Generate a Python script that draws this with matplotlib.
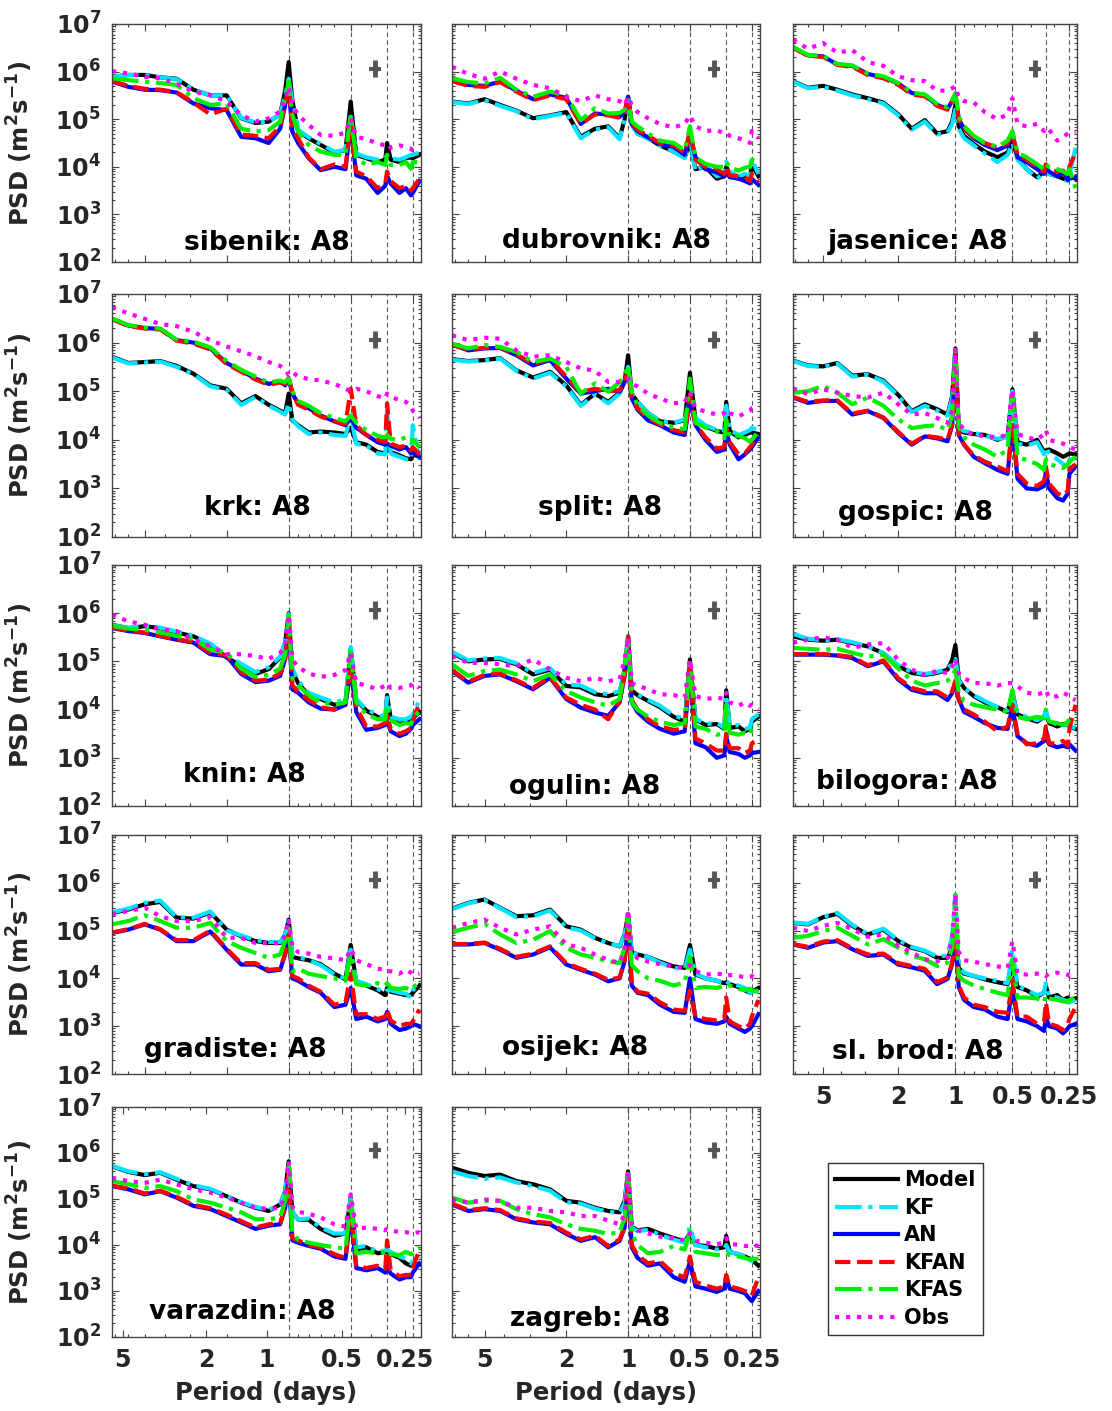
import numpy as np
import matplotlib.pyplot as plt
from matplotlib.ticker import NullFormatter, LogLocator

plt.rcParams['font.family'] = ['DejaVu Sans']
plt.rcParams['font.weight'] = 'bold'
plt.rcParams['mathtext.fontset'] = 'dejavusans'
plt.rcParams['mathtext.default'] = 'bf'

# period grid (days) the spectra were read on
period = [7.2, 6.0, 5.0, 4.2, 3.5, 2.9, 2.4, 2.0, 1.7, 1.45, 1.25, 1.1, 1.04, 1.0, 0.96, 0.9,
          0.8, 0.7, 0.6, 0.53, 0.5, 0.47, 0.42, 0.37, 0.34, 0.333, 0.32, 0.29, 0.27, 0.255, 0.25, 0.232]

# tidal periods marked with dashed lines and the confidence bar
tidal_periods = [1.0, 0.5, 1 / 3, 0.25]
ci_period = 0.38
ci_center = 1.15e6
ci_low = 7.6e5
ci_high = 1.75e6

# log10 PSD values, one list per station and run
sibenik_model = [5.89, 5.93, 5.93, 5.88, 5.85, 5.62, 5.5, 5.5, 5.02, 4.92, 4.95, 5.1, 5.6, 6.2, 5.4, 4.75, 4.6, 4.46, 4.3, 4.35, 5.37, 4.25, 4.18, 4.1, 4.15, 4.5, 4.15, 4.1, 4.18, 4.2, 4.18, 4.25]
sibenik_kf = [5.89, 5.93, 5.92, 5.88, 5.84, 5.62, 5.5, 5.5, 5.03, 4.93, 4.95, 5.1, 5.5, 5.85, 5.35, 4.78, 4.62, 4.48, 4.32, 4.35, 5.05, 4.28, 4.2, 4.15, 4.18, 4.25, 4.18, 4.15, 4.2, 4.25, 4.25, 4.3]
sibenik_an = [5.79, 5.68, 5.62, 5.61, 5.56, 5.33, 5.23, 5.19, 4.63, 4.6, 4.5, 4.8, 5.3, 5.68, 4.74, 4.5, 4.18, 3.93, 4.0, 3.95, 4.88, 3.82, 3.75, 3.45, 3.6, 3.8, 3.65, 3.45, 3.55, 3.4, 3.45, 3.7]
sibenik_kfan = [5.8, 5.7, 5.64, 5.62, 5.57, 5.35, 5.1, 5.22, 4.68, 4.65, 4.6, 4.85, 5.35, 5.7, 4.8, 4.6, 4.2, 3.95, 4.05, 4.0, 4.9, 3.9, 3.8, 3.55, 3.65, 3.9, 3.7, 3.55, 3.6, 3.5, 3.55, 3.75]
sibenik_kfas = [5.86, 5.82, 5.79, 5.76, 5.72, 5.44, 5.3, 5.33, 4.8, 4.74, 4.77, 4.95, 5.44, 5.79, 5.09, 4.74, 4.46, 4.32, 4.25, 4.25, 5.09, 4.18, 4.04, 4.1, 4.04, 4.25, 4.04, 4.04, 4.1, 3.96, 4.1, 4.1]
sibenik_obs = [6.01, 5.96, 5.89, 5.86, 5.75, 5.58, 5.51, 5.37, 5.09, 4.95, 5.02, 5.16, 5.44, 5.68, 5.3, 5.09, 4.88, 4.67, 4.65, 4.72, 5.02, 4.63, 4.58, 4.49, 4.45, 4.49, 4.4, 4.45, 4.42, 4.38, 4.35, 4.35]

dubrovnik_model = [5.37, 5.33, 5.42, 5.3, 5.18, 5.02, 5.08, 5.15, 4.63, 4.8, 4.85, 4.6, 5.0, 5.47, 4.9, 4.7, 4.6, 4.45, 4.32, 4.2, 4.5, 3.95, 4.0, 3.75, 3.8, 4.0, 3.85, 3.75, 3.8, 3.78, 4.05, 3.8]
dubrovnik_kf = [5.36, 5.32, 5.4, 5.28, 5.17, 5.0, 5.07, 5.13, 4.6, 4.78, 4.83, 4.58, 5.0, 5.45, 4.88, 4.7, 4.6, 4.45, 4.32, 4.18, 4.6, 3.9, 4.05, 3.8, 3.85, 4.1, 3.9, 3.8, 3.85, 3.8, 4.15, 3.85]
dubrovnik_an = [5.82, 5.72, 5.7, 5.79, 5.6, 5.42, 5.52, 5.45, 4.9, 5.12, 5.1, 5.05, 5.15, 5.47, 4.9, 4.75, 4.62, 4.48, 4.42, 4.25, 4.7, 4.2, 3.95, 3.88, 3.8, 3.9, 3.78, 3.75, 3.7, 3.65, 3.75, 3.62]
dubrovnik_kfan = [5.8, 5.7, 5.68, 5.78, 5.58, 5.4, 5.5, 5.42, 4.9, 5.1, 5.08, 5.03, 5.15, 5.47, 4.92, 4.78, 4.65, 4.5, 4.45, 4.3, 4.75, 4.15, 4.0, 3.95, 3.85, 4.0, 3.82, 3.8, 3.78, 3.7, 3.85, 3.7]
dubrovnik_kfas = [5.86, 5.78, 5.75, 5.87, 5.62, 5.47, 5.58, 5.5, 4.98, 5.23, 5.12, 5.13, 5.2, 5.4, 4.95, 4.85, 4.7, 4.55, 4.5, 4.35, 4.85, 4.2, 4.06, 4.0, 4.0, 4.1, 3.99, 3.92, 3.98, 4.0, 4.15, 4.1]
dubrovnik_obs = [6.1, 5.95, 5.85, 6.0, 5.85, 5.72, 5.65, 5.47, 5.38, 5.5, 5.42, 5.38, 5.3, 5.47, 5.3, 5.15, 5.02, 4.9, 4.83, 4.9, 5.08, 4.85, 4.75, 4.77, 4.7, 4.72, 4.65, 4.6, 4.55, 4.5, 4.75, 4.6]

jasenice_model = [5.8, 5.66, 5.7, 5.62, 5.52, 5.44, 5.35, 5.1, 4.8, 4.98, 4.7, 4.75, 4.95, 5.3, 4.85, 4.65, 4.48, 4.32, 4.2, 4.3, 4.55, 4.2, 3.95, 3.78, 3.9, 3.95, 3.85, 3.8, 3.75, 3.72, 3.8, 3.75]
jasenice_kf = [5.79, 5.65, 5.68, 5.6, 5.5, 5.42, 5.33, 5.08, 4.78, 4.95, 4.68, 4.72, 4.9, 5.2, 4.8, 4.6, 4.45, 4.28, 4.1, 4.25, 4.5, 4.15, 3.95, 3.75, 3.88, 4.05, 3.85, 3.8, 3.75, 3.7, 3.82, 4.4]
jasenice_an = [6.51, 6.34, 6.32, 6.15, 6.12, 5.95, 5.88, 5.75, 5.55, 5.5, 5.3, 5.22, 5.38, 5.51, 5.0, 4.8, 4.6, 4.46, 4.35, 4.45, 4.7, 4.2, 4.1, 3.95, 3.85, 3.98, 3.9, 3.8, 3.88, 3.72, 3.75, 3.78]
jasenice_kfan = [6.5, 6.33, 6.31, 6.14, 6.1, 5.93, 5.86, 5.72, 5.52, 5.48, 5.28, 5.2, 5.38, 5.5, 5.0, 4.82, 4.62, 4.5, 4.4, 4.5, 4.7, 4.25, 4.15, 4.0, 3.9, 4.05, 3.95, 3.9, 3.92, 3.8, 4.0, 4.3]
jasenice_kfas = [6.52, 6.35, 6.33, 6.16, 6.13, 5.96, 5.9, 5.76, 5.56, 5.52, 5.32, 5.25, 5.4, 5.55, 5.05, 4.85, 4.65, 4.5, 4.42, 4.55, 4.75, 4.3, 4.2, 4.05, 3.95, 4.05, 4.0, 3.95, 3.9, 3.85, 3.95, 3.55]
jasenice_obs = [6.67, 6.48, 6.6, 6.4, 6.45, 6.2, 6.12, 5.9, 5.82, 5.8, 5.6, 5.6, 5.65, 5.69, 5.45, 5.38, 5.35, 5.15, 5.0, 5.1, 5.44, 4.9, 4.85, 4.9, 4.75, 4.82, 4.78, 4.55, 4.62, 4.7, 4.72, 4.72]

krk_model = [5.71, 5.58, 5.6, 5.62, 5.52, 5.36, 5.12, 5.05, 4.75, 4.9, 4.72, 4.6, 4.55, 4.95, 4.4, 4.3, 4.15, 4.17, 4.15, 4.12, 4.25, 3.95, 3.9, 3.75, 3.72, 3.82, 3.75, 3.68, 3.62, 3.6, 3.7, 3.65]
krk_kf = [5.7, 5.57, 5.59, 5.61, 5.5, 5.35, 5.1, 5.03, 4.72, 4.88, 4.7, 4.58, 4.52, 4.75, 4.42, 4.28, 4.12, 4.15, 4.1, 4.08, 4.5, 3.92, 3.88, 3.72, 3.7, 4.6, 3.72, 3.65, 3.6, 3.58, 4.3, 3.6]
krk_an = [6.49, 6.35, 6.3, 6.28, 6.05, 6.0, 5.88, 5.58, 5.42, 5.26, 5.15, 5.2, 5.12, 5.26, 4.95, 4.75, 4.65, 4.5, 4.38, 4.3, 4.45, 4.25, 4.1, 3.95, 3.9, 3.92, 3.88, 3.8, 3.85, 3.72, 3.75, 3.65]
krk_kfan = [6.48, 6.34, 6.29, 6.27, 6.04, 5.98, 5.86, 5.56, 5.4, 5.24, 5.13, 5.18, 5.15, 5.28, 4.98, 4.72, 4.62, 4.48, 4.38, 4.32, 5.05, 4.3, 4.1, 4.0, 3.95, 4.75, 3.92, 3.85, 3.88, 3.78, 3.85, 3.7]
krk_kfas = [6.5, 6.36, 6.31, 6.29, 6.06, 6.02, 5.9, 5.62, 5.44, 5.3, 5.18, 5.22, 5.18, 5.28, 5.0, 4.8, 4.7, 4.55, 4.45, 4.38, 4.5, 4.35, 4.2, 4.08, 4.05, 4.1, 4.02, 4.0, 4.05, 3.95, 4.0, 3.85]
krk_obs = [6.73, 6.6, 6.49, 6.38, 6.34, 6.22, 6.05, 5.92, 5.82, 5.72, 5.6, 5.52, 5.45, 5.33, 5.4, 5.3, 5.25, 5.22, 5.15, 5.05, 5.0, 5.05, 5.0, 4.9, 4.85, 4.95, 4.88, 4.82, 4.78, 4.7, 4.6, 4.45]

split_model = [5.66, 5.62, 5.64, 5.68, 5.43, 5.28, 5.4, 5.12, 4.72, 4.95, 4.78, 4.97, 5.2, 5.74, 4.95, 4.78, 4.55, 4.38, 4.35, 4.4, 5.38, 4.42, 4.28, 4.18, 4.15, 4.78, 4.18, 4.05, 4.1, 4.15, 4.15, 4.12]
split_kf = [5.65, 5.61, 5.63, 5.67, 5.42, 5.26, 5.38, 5.1, 4.7, 4.93, 4.75, 4.95, 5.18, 5.5, 4.95, 4.78, 4.55, 4.38, 4.35, 4.42, 4.8, 4.45, 4.3, 4.2, 4.2, 4.7, 4.2, 4.1, 4.15, 4.2, 4.25, 4.2]
split_an = [5.96, 5.84, 5.88, 5.89, 5.74, 5.53, 5.64, 5.26, 4.95, 5.0, 5.05, 4.99, 5.2, 5.4, 4.85, 4.62, 4.4, 4.3, 4.15, 4.1, 4.85, 4.3, 4.0, 3.75, 3.8, 4.2, 3.9, 3.6, 3.7, 3.8, 3.85, 4.05]
split_kfan = [5.95, 5.86, 5.89, 5.9, 5.76, 5.56, 5.66, 5.3, 4.98, 5.05, 5.0, 5.02, 5.22, 5.42, 4.88, 4.65, 4.45, 4.32, 4.2, 4.15, 4.9, 4.32, 4.05, 3.82, 3.85, 4.25, 3.95, 3.7, 3.72, 3.85, 3.9, 4.1]
split_kfas = [5.98, 5.88, 5.95, 5.91, 5.81, 5.6, 5.67, 5.5, 4.95, 5.16, 4.99, 5.19, 5.33, 5.53, 4.98, 4.72, 4.5, 4.35, 4.25, 4.22, 5.26, 4.35, 4.25, 4.18, 4.03, 4.42, 4.05, 4.08, 4.03, 3.96, 4.0, 4.18]
split_obs = [6.15, 6.05, 6.1, 6.08, 5.84, 5.71, 5.74, 5.6, 5.47, 5.42, 5.19, 5.19, 5.22, 5.26, 5.15, 5.1, 4.95, 4.85, 4.75, 4.78, 4.98, 4.65, 4.58, 4.52, 4.55, 4.62, 4.55, 4.48, 4.55, 4.6, 4.65, 4.7]

gospic_model = [5.63, 5.53, 5.51, 5.58, 5.32, 5.35, 5.22, 4.92, 4.59, 4.73, 4.63, 4.52, 4.9, 5.88, 4.2, 4.15, 4.12, 4.1, 4.0, 4.08, 5.04, 3.95, 3.9, 4.0, 3.75, 3.78, 3.8, 3.72, 3.65, 3.7, 3.72, 3.7]
gospic_kf = [5.62, 5.52, 5.5, 5.57, 5.3, 5.34, 5.2, 4.9, 4.57, 4.7, 4.6, 4.5, 4.85, 5.85, 4.22, 4.18, 4.15, 4.08, 4.02, 4.05, 5.0, 3.92, 3.88, 3.95, 3.7, 3.85, 3.72, 3.6, 3.5, 3.45, 3.6, 3.55]
gospic_an = [4.87, 4.76, 4.8, 4.8, 4.52, 4.59, 4.45, 4.14, 3.9, 4.07, 4.03, 3.97, 4.3, 5.8, 4.1, 3.9, 3.65, 3.52, 3.38, 3.3, 4.3, 3.2, 3.0, 2.98, 3.05, 3.35, 3.0, 2.8, 2.75, 2.9, 3.3, 3.45]
gospic_kfan = [4.88, 4.78, 4.81, 4.81, 4.54, 4.6, 4.46, 4.16, 3.92, 4.08, 4.05, 4.0, 4.32, 5.8, 4.12, 3.9, 3.68, 3.55, 3.45, 3.35, 4.35, 3.3, 3.1, 3.05, 3.15, 3.45, 3.1, 2.9, 2.85, 2.95, 3.4, 3.5]
gospic_kfas = [4.97, 5.0, 5.11, 4.97, 4.73, 4.87, 4.7, 4.42, 4.24, 4.28, 4.3, 4.2, 4.5, 5.85, 4.28, 4.05, 3.9, 3.8, 3.65, 3.8, 4.95, 3.65, 3.58, 3.5, 3.38, 3.6, 3.5, 3.45, 3.42, 3.5, 3.55, 3.65]
gospic_obs = [5.06, 4.94, 5.04, 4.97, 4.9, 4.87, 4.97, 4.73, 4.52, 4.55, 4.45, 4.35, 4.6, 5.88, 4.35, 4.2, 4.1, 4.08, 4.05, 4.1, 5.04, 4.12, 4.05, 4.0, 4.12, 4.2, 4.0, 3.95, 3.92, 3.88, 3.85, 3.8]

knin_model = [5.76, 5.69, 5.73, 5.69, 5.6, 5.52, 5.35, 5.08, 4.91, 4.74, 4.84, 5.08, 5.39, 6.0, 4.8, 4.55, 4.3, 4.22, 4.1, 4.15, 5.28, 4.2, 3.98, 3.85, 3.8, 4.3, 3.82, 3.7, 3.75, 3.8, 3.82, 3.95]
knin_kf = [5.75, 5.7, 5.74, 5.7, 5.62, 5.53, 5.37, 5.12, 4.95, 4.78, 4.88, 5.1, 5.4, 5.98, 4.85, 4.6, 4.35, 4.25, 4.15, 4.2, 5.3, 4.22, 4.0, 3.9, 3.85, 4.25, 3.85, 3.8, 3.8, 3.85, 3.9, 4.2]
knin_an = [5.69, 5.63, 5.59, 5.52, 5.45, 5.39, 5.15, 5.11, 4.74, 4.57, 4.6, 4.7, 5.05, 5.73, 4.42, 4.35, 4.15, 4.02, 4.0, 4.1, 4.84, 3.95, 3.58, 3.62, 3.68, 3.85, 3.55, 3.45, 3.5, 3.6, 3.68, 3.8]
knin_kfan = [5.7, 5.64, 5.6, 5.53, 5.46, 5.41, 5.18, 5.13, 4.78, 4.6, 4.62, 4.75, 5.05, 5.75, 4.5, 4.38, 4.2, 4.05, 4.0, 4.15, 4.9, 4.05, 3.65, 3.65, 3.72, 3.9, 3.6, 3.5, 3.55, 3.62, 3.75, 4.15]
knin_kfas = [5.74, 5.68, 5.66, 5.6, 5.53, 5.47, 5.25, 5.18, 4.85, 4.68, 4.72, 4.85, 5.15, 5.95, 4.65, 4.5, 4.3, 4.15, 4.1, 4.15, 5.2, 4.15, 3.9, 3.8, 3.8, 4.1, 3.78, 3.68, 3.72, 3.7, 3.8, 3.98]
knin_obs = [5.97, 5.83, 5.76, 5.66, 5.63, 5.45, 5.32, 5.15, 5.15, 5.11, 5.05, 5.18, 5.32, 5.97, 5.05, 4.88, 4.75, 4.68, 4.72, 4.82, 5.18, 4.55, 4.5, 4.42, 4.5, 4.55, 4.45, 4.45, 4.48, 4.5, 4.55, 4.45]

ogulin_model = [5.18, 5.0, 5.04, 5.05, 4.94, 4.73, 4.83, 4.49, 4.46, 4.32, 4.28, 4.35, 4.83, 5.52, 4.4, 4.3, 4.18, 4.05, 3.85, 3.75, 5.04, 3.8, 3.68, 3.7, 3.6, 4.4, 3.62, 3.65, 3.55, 3.6, 3.75, 3.85]
ogulin_kf = [5.2, 5.02, 5.06, 5.07, 4.96, 4.76, 4.86, 4.52, 4.5, 4.36, 4.32, 4.38, 4.8, 5.5, 4.42, 4.32, 4.2, 4.08, 3.88, 3.8, 4.95, 3.82, 3.7, 3.72, 3.62, 4.3, 3.65, 3.68, 3.6, 3.62, 3.8, 3.9]
ogulin_an = [4.8, 4.56, 4.7, 4.73, 4.59, 4.42, 4.66, 4.22, 4.04, 3.94, 3.87, 4.15, 4.7, 5.45, 4.15, 3.95, 3.75, 3.6, 3.5, 3.55, 4.85, 3.3, 3.22, 3.0, 3.05, 3.45, 3.12, 3.08, 3.0, 3.05, 3.1, 3.12]
ogulin_kfan = [4.82, 4.58, 4.72, 4.75, 4.61, 4.45, 4.68, 4.25, 4.1, 4.0, 3.8, 4.18, 4.72, 5.5, 4.2, 4.0, 3.8, 3.65, 3.58, 3.6, 4.95, 3.4, 3.3, 3.15, 3.15, 3.5, 3.2, 3.2, 3.1, 3.15, 3.3, 3.35]
ogulin_kfas = [4.94, 4.7, 4.8, 4.83, 4.73, 4.59, 4.73, 4.39, 4.25, 4.15, 4.08, 4.22, 4.83, 5.5, 4.15, 4.0, 3.85, 3.75, 3.68, 3.72, 4.95, 3.65, 3.6, 3.48, 3.5, 4.1, 3.52, 3.48, 3.52, 3.48, 3.6, 3.68]
ogulin_obs = [5.11, 4.97, 4.97, 4.94, 4.9, 5.04, 4.83, 4.66, 4.59, 4.66, 4.59, 4.63, 5.04, 5.5, 4.55, 4.5, 4.42, 4.32, 4.3, 4.25, 5.04, 4.28, 4.22, 4.25, 4.22, 4.35, 4.15, 4.08, 4.15, 4.08, 4.1, 4.0]

bilogora_model = [5.52, 5.45, 5.43, 5.45, 5.38, 5.31, 5.17, 4.9, 4.76, 4.72, 4.76, 4.83, 5.03, 5.34, 4.62, 4.45, 4.28, 4.15, 4.05, 3.95, 4.35, 3.9, 3.82, 3.75, 3.85, 3.95, 3.72, 3.65, 3.7, 3.68, 3.65, 3.6]
bilogora_kf = [5.57, 5.47, 5.44, 5.46, 5.4, 5.31, 5.17, 4.92, 4.78, 4.74, 4.78, 4.85, 4.95, 5.05, 4.6, 4.45, 4.3, 4.18, 4.05, 3.98, 4.3, 3.92, 3.85, 3.78, 3.85, 3.98, 3.75, 3.7, 3.68, 3.7, 3.65, 3.62]
bilogora_an = [5.14, 5.14, 5.14, 5.12, 5.07, 4.9, 5.0, 4.62, 4.41, 4.34, 4.34, 4.2, 4.34, 4.55, 4.22, 3.95, 3.85, 3.72, 3.62, 3.6, 4.05, 3.45, 3.3, 3.25, 3.35, 3.6, 3.28, 3.22, 3.25, 3.22, 3.28, 3.15]
bilogora_kfan = [5.15, 5.15, 5.15, 5.13, 5.09, 4.92, 5.02, 4.65, 4.45, 4.38, 4.38, 4.25, 4.38, 4.6, 4.2, 4.0, 3.9, 3.75, 3.55, 3.65, 4.1, 3.5, 3.28, 3.3, 3.4, 3.65, 3.3, 3.3, 3.35, 3.25, 3.6, 4.1]
bilogora_kfas = [5.28, 5.26, 5.24, 5.26, 5.18, 5.1, 5.14, 4.85, 4.6, 4.5, 4.55, 4.6, 4.7, 4.83, 4.35, 4.18, 4.1, 4.05, 4.0, 3.95, 4.4, 3.85, 3.8, 3.85, 3.82, 4.0, 3.75, 3.72, 3.68, 3.75, 3.8, 3.72]
bilogora_obs = [5.39, 5.45, 5.5, 5.45, 5.28, 5.35, 5.38, 5.03, 4.83, 4.72, 4.8, 4.76, 4.9, 5.05, 4.75, 4.65, 4.55, 4.55, 4.5, 4.55, 4.55, 4.48, 4.35, 4.32, 4.35, 4.4, 4.25, 4.28, 4.35, 4.3, 4.25, 4.2]

gradiste_model = [5.37, 5.44, 5.55, 5.6, 5.27, 5.25, 5.38, 5.02, 4.88, 4.78, 4.74, 4.74, 4.92, 5.23, 4.45, 4.42, 4.38, 4.3, 4.1, 3.98, 4.7, 3.92, 3.85, 3.75, 3.65, 3.8, 3.72, 3.68, 3.65, 3.65, 3.7, 3.85]
gradiste_kf = [5.38, 5.46, 5.58, 5.63, 5.28, 5.27, 5.4, 5.0, 4.9, 4.8, 4.76, 4.76, 4.92, 5.2, 4.5, 4.45, 4.38, 4.28, 4.08, 4.0, 4.6, 3.95, 3.88, 3.78, 3.7, 3.75, 3.75, 3.7, 3.68, 3.6, 3.75, 3.9]
gradiste_an = [4.95, 5.02, 5.13, 5.02, 4.78, 4.78, 4.98, 4.6, 4.29, 4.29, 4.15, 4.18, 4.5, 4.9, 4.0, 3.95, 3.82, 3.7, 3.4, 3.45, 3.8, 3.15, 3.2, 3.1, 3.15, 3.3, 3.05, 2.92, 2.95, 3.0, 3.05, 3.0]
gradiste_kfan = [4.96, 5.03, 5.14, 5.03, 4.8, 4.8, 5.0, 4.62, 4.32, 4.32, 4.18, 4.2, 4.52, 4.92, 4.05, 4.0, 3.85, 3.72, 3.45, 3.5, 4.1, 3.25, 3.25, 3.15, 3.2, 3.35, 3.12, 3.0, 3.05, 3.05, 3.1, 3.35]
gradiste_kfas = [5.13, 5.2, 5.32, 5.2, 5.06, 5.06, 5.16, 4.78, 4.64, 4.53, 4.43, 4.5, 4.78, 5.05, 4.15, 4.2, 4.1, 4.05, 4.0, 3.95, 4.5, 3.88, 3.85, 3.9, 3.85, 3.9, 3.8, 3.78, 3.8, 3.75, 3.8, 3.92]
gradiste_obs = [5.34, 5.41, 5.48, 5.3, 5.2, 5.2, 5.28, 4.85, 4.85, 4.74, 4.74, 4.74, 4.9, 5.25, 4.65, 4.55, 4.52, 4.45, 4.42, 4.38, 4.62, 4.38, 4.3, 4.2, 4.18, 4.15, 4.15, 4.1, 4.18, 4.12, 4.08, 4.1]

osijek_model = [5.46, 5.58, 5.65, 5.48, 5.3, 5.32, 5.44, 5.09, 5.02, 4.85, 4.74, 4.67, 4.92, 5.34, 4.55, 4.5, 4.45, 4.35, 4.25, 4.22, 4.7, 4.08, 4.0, 3.95, 3.9, 3.92, 3.88, 3.82, 3.75, 3.7, 3.72, 3.8]
osijek_kf = [5.45, 5.57, 5.64, 5.47, 5.28, 5.3, 5.42, 5.07, 5.0, 4.84, 4.73, 4.68, 4.9, 5.3, 4.55, 4.5, 4.45, 4.33, 4.22, 4.2, 4.6, 4.1, 4.0, 3.95, 3.9, 3.95, 3.88, 3.85, 3.8, 3.7, 3.72, 3.75]
osijek_an = [4.71, 4.71, 4.74, 4.6, 4.43, 4.5, 4.65, 4.29, 4.18, 4.08, 3.94, 4.0, 4.36, 5.2, 3.85, 3.7, 3.65, 3.45, 3.3, 3.28, 4.0, 3.15, 3.08, 3.05, 3.1, 3.2, 3.05, 2.95, 2.88, 2.95, 3.0, 3.25]
osijek_kfan = [4.72, 4.72, 4.75, 4.62, 4.45, 4.52, 4.67, 4.32, 4.2, 4.1, 3.97, 4.02, 4.38, 5.2, 3.9, 3.72, 3.68, 3.5, 3.35, 3.32, 3.75, 3.2, 3.15, 3.12, 3.15, 3.6, 3.1, 3.0, 2.95, 3.05, 3.2, 3.55]
osijek_kfas = [4.97, 5.06, 5.14, 4.92, 4.74, 4.81, 4.99, 4.64, 4.5, 4.43, 4.36, 4.32, 4.64, 5.28, 4.28, 4.15, 4.0, 3.95, 3.85, 3.92, 4.45, 3.8, 3.82, 3.8, 3.85, 3.85, 3.85, 3.78, 3.75, 3.78, 3.75, 3.72]
osijek_obs = [5.06, 5.16, 5.23, 5.06, 4.92, 5.02, 5.09, 4.71, 4.64, 4.5, 4.39, 4.32, 4.64, 5.44, 4.55, 4.42, 4.35, 4.3, 4.25, 4.22, 4.28, 4.15, 4.08, 4.1, 4.08, 4.05, 4.07, 4.05, 4.02, 4.03, 4.05, 3.98]

slbrod_model = [5.16, 5.13, 5.28, 5.35, 5.1, 4.92, 5.02, 4.78, 4.64, 4.57, 4.43, 4.43, 4.64, 4.99, 4.22, 4.1, 4.05, 3.98, 3.92, 3.88, 4.3, 3.82, 3.75, 3.62, 3.7, 3.85, 3.6, 3.65, 3.55, 3.6, 3.55, 3.58]
slbrod_kf = [5.17, 5.14, 5.29, 5.37, 5.12, 4.93, 5.04, 4.8, 4.66, 4.58, 4.46, 4.48, 4.9, 5.75, 4.25, 4.12, 4.05, 4.0, 3.95, 3.9, 4.6, 3.85, 3.75, 3.65, 3.7, 3.9, 3.62, 3.6, 3.55, 3.52, 3.5, 3.55]
slbrod_an = [4.71, 4.64, 4.75, 4.78, 4.61, 4.47, 4.5, 4.29, 4.23, 4.16, 3.88, 3.99, 4.3, 4.85, 3.82, 3.55, 3.4, 3.35, 3.2, 3.15, 3.8, 3.15, 3.1, 3.0, 2.9, 3.2, 3.0, 2.95, 2.85, 2.95, 3.0, 3.05]
slbrod_kfan = [4.72, 4.66, 4.77, 4.8, 4.63, 4.5, 4.52, 4.32, 4.26, 4.2, 3.92, 4.02, 4.32, 4.9, 3.85, 3.6, 3.45, 3.4, 3.3, 3.28, 3.95, 3.2, 3.2, 3.05, 3.1, 3.5, 3.05, 3.0, 2.92, 3.05, 3.15, 3.4]
slbrod_kfas = [4.85, 4.89, 4.99, 5.06, 4.89, 4.71, 4.82, 4.64, 4.47, 4.4, 4.26, 4.33, 4.64, 5.75, 4.05, 3.95, 3.85, 3.78, 3.7, 3.65, 4.4, 3.6, 3.6, 3.58, 3.5, 3.65, 3.58, 3.55, 3.52, 3.5, 3.55, 3.6]
slbrod_obs = [5.06, 4.99, 5.1, 5.16, 5.03, 4.87, 4.92, 4.68, 4.54, 4.4, 4.36, 4.43, 4.85, 5.75, 4.55, 4.38, 4.35, 4.3, 4.25, 4.22, 4.78, 4.1, 4.08, 4.1, 4.08, 4.05, 4.1, 4.12, 4.1, 4.08, 4.05, 4.1]

varazdin_model = [5.71, 5.59, 5.52, 5.57, 5.42, 5.28, 5.21, 5.06, 4.92, 4.81, 4.74, 4.88, 5.17, 5.82, 4.72, 4.55, 4.55, 4.35, 4.2, 4.25, 5.03, 3.9, 3.95, 3.82, 3.85, 3.85, 3.8, 3.72, 3.6, 3.55, 3.6, 3.58]
varazdin_kf = [5.72, 5.6, 5.54, 5.58, 5.44, 5.3, 5.22, 5.07, 4.93, 4.83, 4.76, 4.9, 5.15, 5.8, 4.72, 4.55, 4.58, 4.38, 4.25, 4.25, 5.0, 3.95, 3.98, 3.85, 3.88, 3.9, 3.85, 3.75, 3.7, 3.6, 3.65, 3.75]
varazdin_an = [5.28, 5.21, 5.1, 5.17, 5.03, 4.85, 4.78, 4.63, 4.49, 4.35, 4.42, 4.45, 4.81, 5.5, 4.1, 4.05, 3.98, 3.92, 3.75, 3.7, 4.65, 3.5, 3.45, 3.5, 3.4, 3.55, 3.38, 3.25, 3.3, 3.3, 3.4, 3.6]
varazdin_kfan = [5.29, 5.23, 5.12, 5.18, 5.05, 4.87, 4.8, 4.66, 4.52, 4.38, 4.45, 4.48, 4.82, 5.55, 4.15, 4.1, 4.0, 3.95, 3.8, 3.72, 4.8, 3.55, 3.5, 3.55, 3.48, 4.1, 3.45, 3.32, 3.35, 3.35, 3.5, 3.9]
varazdin_kfas = [5.39, 5.32, 5.24, 5.28, 5.17, 4.99, 4.92, 4.81, 4.71, 4.56, 4.56, 4.6, 4.96, 5.7, 4.25, 4.12, 4.05, 4.0, 3.95, 3.92, 4.95, 3.82, 3.85, 3.82, 3.85, 3.9, 3.8, 3.78, 3.85, 3.8, 3.82, 3.95]
varazdin_obs = [5.46, 5.39, 5.35, 5.42, 5.32, 5.21, 5.14, 5.03, 4.92, 4.81, 4.78, 4.81, 5.1, 5.82, 4.82, 4.72, 4.68, 4.6, 4.45, 4.4, 5.1, 4.35, 4.38, 4.35, 4.32, 4.35, 4.32, 4.28, 4.28, 4.25, 4.26, 4.28]

zagreb_model = [5.68, 5.57, 5.5, 5.53, 5.39, 5.32, 5.21, 4.96, 4.92, 4.81, 4.74, 4.71, 4.96, 5.6, 4.4, 4.32, 4.35, 4.25, 4.15, 4.08, 4.25, 4.0, 3.98, 3.92, 3.95, 4.2, 3.85, 3.8, 3.75, 3.7, 3.68, 3.55]
zagreb_kf = [5.6, 5.5, 5.44, 5.47, 5.36, 5.28, 5.18, 4.93, 4.9, 4.79, 4.72, 4.7, 4.9, 5.6, 4.38, 4.3, 4.33, 4.22, 4.12, 4.05, 4.4, 4.0, 3.95, 3.9, 3.92, 4.0, 3.85, 3.8, 3.75, 3.72, 3.65, 3.6]
zagreb_an = [4.88, 4.74, 4.78, 4.74, 4.56, 4.49, 4.45, 4.24, 4.09, 4.17, 3.95, 4.09, 4.38, 5.45, 3.95, 3.72, 3.55, 3.6, 3.3, 3.2, 3.65, 3.1, 3.05, 2.98, 3.05, 3.3, 3.05, 3.0, 2.95, 2.82, 2.78, 3.0]
zagreb_kfan = [4.9, 4.76, 4.8, 4.76, 4.58, 4.51, 4.48, 4.27, 4.12, 4.2, 3.98, 4.12, 4.4, 5.5, 4.0, 3.78, 3.6, 3.65, 3.38, 3.3, 3.75, 3.2, 3.12, 3.05, 3.1, 3.35, 3.1, 3.05, 3.0, 2.95, 2.9, 3.3]
zagreb_kfas = [5.03, 4.92, 4.96, 4.96, 4.78, 4.67, 4.6, 4.45, 4.35, 4.31, 4.24, 4.27, 4.6, 5.55, 4.25, 4.0, 3.82, 3.85, 3.98, 3.9, 4.3, 3.85, 3.82, 3.78, 3.8, 3.82, 3.78, 3.75, 3.72, 3.68, 3.7, 3.7]
zagreb_obs = [4.99, 4.92, 4.99, 4.96, 4.81, 4.81, 4.74, 4.71, 4.63, 4.63, 4.53, 4.45, 4.67, 5.6, 4.45, 4.32, 4.25, 4.18, 4.15, 4.1, 4.25, 4.1, 4.05, 4.02, 4.05, 4.15, 4.03, 4.0, 3.98, 3.98, 4.0, 3.98]

run_names = ['Model', 'KF', 'AN', 'KFAN', 'KFAS', 'Obs']
station_names = ['sibenik', 'dubrovnik', 'jasenice', 'krk', 'split', 'gospic', 'knin', 'ogulin',
                 'bilogora', 'gradiste', 'osijek', 'sl. brod', 'varazdin', 'zagreb']
spectra = {
    'sibenik': [sibenik_model, sibenik_kf, sibenik_an, sibenik_kfan, sibenik_kfas, sibenik_obs],
    'dubrovnik': [dubrovnik_model, dubrovnik_kf, dubrovnik_an, dubrovnik_kfan, dubrovnik_kfas, dubrovnik_obs],
    'jasenice': [jasenice_model, jasenice_kf, jasenice_an, jasenice_kfan, jasenice_kfas, jasenice_obs],
    'krk': [krk_model, krk_kf, krk_an, krk_kfan, krk_kfas, krk_obs],
    'split': [split_model, split_kf, split_an, split_kfan, split_kfas, split_obs],
    'gospic': [gospic_model, gospic_kf, gospic_an, gospic_kfan, gospic_kfas, gospic_obs],
    'knin': [knin_model, knin_kf, knin_an, knin_kfan, knin_kfas, knin_obs],
    'ogulin': [ogulin_model, ogulin_kf, ogulin_an, ogulin_kfan, ogulin_kfas, ogulin_obs],
    'bilogora': [bilogora_model, bilogora_kf, bilogora_an, bilogora_kfan, bilogora_kfas, bilogora_obs],
    'gradiste': [gradiste_model, gradiste_kf, gradiste_an, gradiste_kfan, gradiste_kfas, gradiste_obs],
    'osijek': [osijek_model, osijek_kf, osijek_an, osijek_kfan, osijek_kfas, osijek_obs],
    'sl. brod': [slbrod_model, slbrod_kf, slbrod_an, slbrod_kfan, slbrod_kfas, slbrod_obs],
    'varazdin': [varazdin_model, varazdin_kf, varazdin_an, varazdin_kfan, varazdin_kfas, varazdin_obs],
    'zagreb': [zagreb_model, zagreb_kf, zagreb_an, zagreb_kfan, zagreb_kfas, zagreb_obs],
}

styles = {
    'Model': dict(color='black', ls='-'),
    'KF': dict(color='#00e5ff', ls='-.'),
    'AN': dict(color='#0000ff', ls='-'),
    'KFAN': dict(color='#ff0000', ls='--'),
    'KFAS': dict(color='#00ee00', ls='-.'),
    'Obs': dict(color='#ff00ff', ls=':'),
}

# panel boxes in pixels (x0, x1) and (y0, y1)
W, H = 1112, 1411
col_px = [(112, 421), (452, 760), (793, 1077)]
row_px = [(24, 262), (294, 537), (565, 806), (835, 1074), (1107, 1337)]
# label position inside each panel (axes fraction)
label_pos = {'sibenik': (0.5, 0.08), 'dubrovnik': (0.5, 0.09), 'jasenice': (0.44, 0.085),
             'krk': (0.47, 0.12), 'split': (0.48, 0.12), 'gospic': (0.43, 0.10),
             'knin': (0.43, 0.13), 'ogulin': (0.43, 0.08), 'bilogora': (0.40, 0.10),
             'gradiste': (0.40, 0.10), 'osijek': (0.40, 0.11), 'sl. brod': (0.44, 0.09),
             'varazdin': (0.42, 0.11), 'zagreb': (0.45, 0.08)}

fig = plt.figure(figsize=(W / 100, H / 100), dpi=100)
edge = '#262626'
yticks = [1e2, 1e3, 1e4, 1e5, 1e6, 1e7]

for i, name in enumerate(station_names):
    r, c = divmod(i, 3)
    x0, x1 = col_px[c]
    y0, y1 = row_px[r]
    ax = fig.add_axes([x0 / W, 1 - y1 / H, (x1 - x0) / W, (y1 - y0) / H])
    ax.set_xscale('log')
    ax.set_yscale('log')

    for p in tidal_periods:
        ax.axvline(p, color='#555555', ls='--', lw=0.8, dashes=(4, 3), zorder=1)

    for run, vals in zip(run_names, spectra[name]):
        ax.plot(period, 10 ** np.array(vals), lw=3, label=run, zorder=2, **styles[run])

    ax.errorbar([ci_period], [ci_center], yerr=[[ci_center - ci_low], [ci_high - ci_center]],
                fmt='_', color='#555555', ms=9, mew=3, elinewidth=3.5, capsize=0, zorder=3)

    ax.set_xlim(7.2, 0.228)
    ax.set_ylim(1e2, 1e7)
    ax.set_yticks(yticks)
    ax.yaxis.set_minor_locator(LogLocator(base=10, subs=np.arange(2, 10), numticks=20))

    bottom_row = name in ('varazdin', 'zagreb', 'sl. brod')
    if bottom_row:
        if c == 0:
            ax.set_xticks([6.4, 2.52, 1.28, 0.55, 0.274])
        else:
            ax.set_xticks([5, 2, 1, 0.5, 0.25])
        ax.set_xticklabels(['5', '2', '1', '0.5', '0.25'])
    else:
        ax.set_xticks([5, 2, 1, 0.5, 0.25])
        ax.set_xticklabels([])
    ax.xaxis.set_minor_formatter(NullFormatter())

    if c == 0:
        ax.set_yticklabels([r'$10^{%d}$' % k for k in range(2, 8)])
        ax.set_ylabel(r'PSD (m$^{2}$s$^{-1}$)', fontsize=17.5, fontweight='bold', color=edge)
        ax.yaxis.set_label_coords(-0.25, 0.5)
    else:
        ax.set_yticklabels([])
    ax.yaxis.set_minor_formatter(NullFormatter())

    if name in ('varazdin', 'zagreb'):
        ax.set_xlabel('Period (days)', fontsize=17.5, fontweight='bold', color=edge)
        ax.xaxis.set_label_coords(0.5, -0.19)

    ax.tick_params(which='both', direction='in', top=True, right=True, color='#444444',
                   labelcolor=edge, labelsize=17, width=0.8)
    ax.tick_params(which='major', length=5, pad=8)
    ax.tick_params(which='minor', length=2.5)
    for s in ax.spines.values():
        s.set_color('#444444')
        s.set_linewidth(1.0)

    lx, ly = label_pos[name]
    ax.text(lx, ly, name + ': A8', transform=ax.transAxes, ha='center', va='center',
            fontsize=19, fontweight='bold', color='black', zorder=5)

handles, labels = ax.get_legend_handles_labels()
leg = fig.legend(handles, labels, loc='upper left', bbox_to_anchor=(828 / W, 1 - 1163 / H),
                 frameon=True, fancybox=False, edgecolor='black', fontsize=15,
                 handlelength=3.0, labelspacing=0.36, borderpad=0.35, handletextpad=0.3,
                 borderaxespad=0)
leg.get_frame().set_linewidth(1.0)
for t in leg.get_texts():
    t.set_fontweight('bold')

fig.savefig('out.png', dpi=100)
